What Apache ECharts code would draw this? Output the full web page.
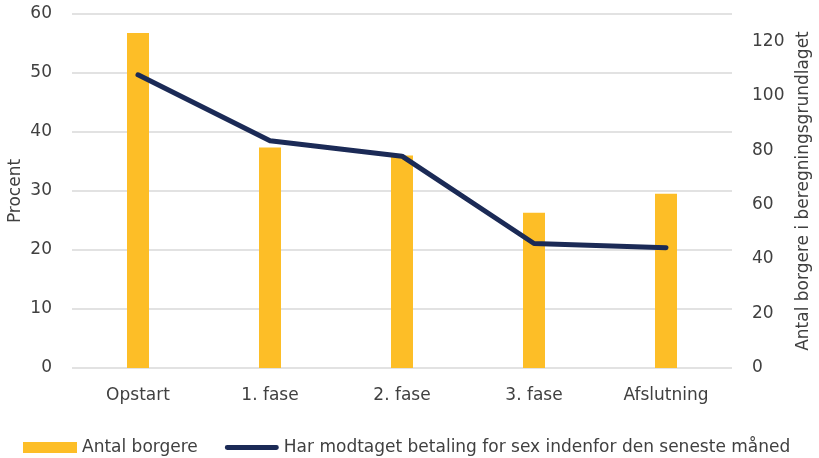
<!DOCTYPE html>
<html><head><meta charset="utf-8">
<script src="https://cdn.jsdelivr.net/npm/echarts@6/dist/echarts.min.js"></script>
<style>html,body{margin:0;padding:0;background:#fff}#c{width:819px;height:458px}</style>
</head><body><div id="c"></div>
<script>
const categories = ['Opstart', '1. fase', '2. fase', '3. fase', 'Afslutning'];
const antalBorgere = [123, 81, 78, 57, 64];
const betalingPct = [49.7, 38.5, 35.9, 21.1, 20.4];
const leftTicks = [0, 10, 20, 30, 40, 50, 60];
const rightTicks = [0, 20, 40, 60, 80, 100, 120];
const barName = 'Antal borgere';
const lineName = 'Har modtaget betaling for sex indenfor den seneste måned';

const FONT = 'DejaVu Sans';
const FS = 17;
const TXT = '#404040';
const chart = echarts.init(document.getElementById('c'), null, {renderer: 'canvas'});
chart.setOption({
  animation: false,
  textStyle: {fontFamily: FONT},
  grid: {left: 72, right: 87, top: 14, bottom: 90, containLabel: false, outerBoundsMode: 'none'},
  legend: {
    left: 23, bottom: 2, padding: 0, itemGap: 27, itemWidth: 54, itemHeight: 11,
    textStyle: {fontSize: FS, color: TXT, fontFamily: FONT},
    data: [
      {name: barName, icon: 'rect'},
      {name: lineName, icon: 'path://M2.5,0 L53.5,0 A2.5,2.5 0 0 1 53.5,5 L2.5,5 A2.5,2.5 0 0 1 2.5,0 Z',
       itemStyle: {color: '#1B2A56'}}
    ]
  },
  xAxis: {
    type: 'category', data: categories,
    axisLine: {show: false}, axisTick: {show: false},
    axisLabel: {fontSize: FS, color: TXT, margin: 19, fontFamily: FONT}
  },
  yAxis: [
    {
      type: 'value', min: leftTicks[0], max: leftTicks[leftTicks.length - 1], interval: 10,
      name: 'Procent', nameLocation: 'middle', nameGap: 48, nameRotate: 90, nameMoveOverlap: false,
      nameTextStyle: {fontSize: FS, color: TXT, fontFamily: FONT},
      axisLine: {show: false}, axisTick: {show: false},
      axisLabel: {fontSize: FS, color: TXT, margin: 20, fontFamily: FONT},
      splitLine: {lineStyle: {color: '#D9D9D9', width: 1.5}}
    },
    {
      type: 'value', min: rightTicks[0], max: 130, interval: 20,
      name: 'Antal borgere i beregningsgrundlaget', nameLocation: 'middle', nameGap: 63, nameRotate: 90, nameMoveOverlap: false,
      nameTextStyle: {fontSize: FS, color: TXT, fontFamily: FONT},
      axisLine: {show: false}, axisTick: {show: false},
      axisLabel: {fontSize: FS, color: TXT, margin: 20, fontFamily: FONT,
        formatter: v => rightTicks.includes(v) ? String(v) : ''},
      splitLine: {show: false}
    }
  ],
  series: [
    {
      name: barName, type: 'bar', yAxisIndex: 1, data: antalBorgere,
      barWidth: 22, itemStyle: {color: '#FDBE27'}
    },
    {
      name: lineName, type: 'line', yAxisIndex: 0, data: betalingPct,
      symbol: 'none', lineStyle: {color: '#1B2A56', width: 5, cap: 'round', join: 'round'},
      itemStyle: {color: '#1B2A56'}
    }
  ]
});
</script></body></html>
